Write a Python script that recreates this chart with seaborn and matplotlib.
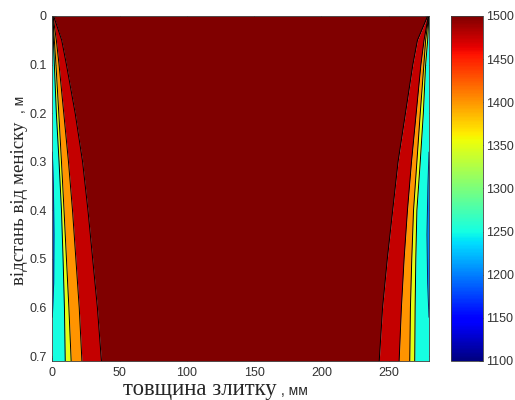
import matplotlib
matplotlib.use("Agg")
import numpy as np
import seaborn as sns
import matplotlib.pyplot as plt
from matplotlib.colors import Normalize
from matplotlib.cm import ScalarMappable

sns.set_style("ticks")
plt.rcParams["font.family"] = ["Liberation Sans", "DejaVu Sans"]

# depth below meniscus, m
depth_m = [0.0, 0.05, 0.1, 0.2, 0.3, 0.4, 0.5, 0.6, 0.71]

# isotherm positions across the slab, mm (left face)
left_1350 = [0.1, 0.8, 1.5, 3.0, 5.0, 6.8, 8.0, 9.0, 9.6]
left_1400 = [0.3, 1.5, 2.7, 4.8, 6.8, 8.7, 10.5, 12.3, 14.0]
left_1475 = [0.5, 3.0, 5.0, 8.5, 12.0, 15.0, 17.5, 20.0, 22.0]
left_1500 = [1.0, 7.0, 10.5, 17.0, 22.5, 26.5, 30.0, 33.5, 36.5]

# isotherm positions, mm (right face)
right_1350 = [279.9, 279.0, 277.5, 275.8, 273.5, 271.0, 270.2, 269.7, 269.4]
right_1400 = [279.7, 277.5, 276.2, 273.5, 271.0, 268.5, 267.2, 266.2, 265.7]
right_1475 = [279.5, 276.3, 274.0, 270.5, 267.0, 264.0, 261.5, 259.5, 257.8]
right_1500 = [279.0, 271.4, 268.0, 262.5, 257.0, 253.0, 249.0, 245.5, 243.0]

# small cold spots (1250 isotherm) at the faces
blue_depth = [0.28, 0.35, 0.45, 0.55, 0.62]
blue_left = [0.0, 0.8, 1.2, 1.0, 0.0]
blue_right = [280.0, 279.2, 278.5, 279.0, 280.0]

slab_edges = [0.0, 280.0]
temp_range = [1100, 1500]
band_levels = [1200, 1250, 1350, 1400, 1475, 1500]

cmap = plt.get_cmap("jet")
norm = Normalize(temp_range[0], temp_range[1])
col = {lv: cmap(norm(lv)) for lv in band_levels}

fig = plt.figure(figsize=(5.15, 4.0), dpi=100)
ax = fig.add_axes([0.1016, 0.0975, 0.7314, 0.8625])
cax = fig.add_axes([0.8757, 0.0975, 0.0621, 0.8625])

# filled bands, colour of each band = lower level (MATLAB contourf style)
ax.fill_betweenx(depth_m, slab_edges[0], left_1350, color=col[1250], lw=0)
ax.fill_betweenx(depth_m, left_1350, left_1400, color=col[1350], lw=0)
ax.fill_betweenx(depth_m, left_1400, left_1475, color=col[1400], lw=0)
ax.fill_betweenx(depth_m, left_1475, left_1500, color=col[1475], lw=0)
ax.fill_betweenx(depth_m, left_1500, right_1500, color=col[1500], lw=0)
ax.fill_betweenx(depth_m, right_1500, right_1475, color=col[1475], lw=0)
ax.fill_betweenx(depth_m, right_1475, right_1400, color=col[1400], lw=0)
ax.fill_betweenx(depth_m, right_1400, right_1350, color=col[1350], lw=0)
ax.fill_betweenx(depth_m, right_1350, slab_edges[1], color=col[1250], lw=0)
ax.fill_betweenx(blue_depth, slab_edges[0], blue_left, color=col[1200], lw=0)
ax.fill_betweenx(blue_depth, blue_right, slab_edges[1], color=col[1200], lw=0)

# isotherm lines
for xs in [left_1350, left_1400, left_1475, left_1500,
           right_1350, right_1400, right_1475, right_1500]:
    sns.lineplot(x=xs, y=depth_m, sort=False, estimator=None, ax=ax,
                 color="black", lw=0.7, legend=False)
for xs in [blue_left, blue_right]:
    sns.lineplot(x=xs, y=blue_depth, sort=False, estimator=None, ax=ax,
                 color="#10206a", lw=0.7, legend=False)

ax.set_xlim(slab_edges[0], slab_edges[1])
ax.set_ylim(0.71, 0)
ax.set_xticks([0, 50, 100, 150, 200, 250])
ax.set_yticks([0, 0.1, 0.2, 0.3, 0.4, 0.5, 0.6, 0.7])
ax.set_yticklabels(["0", "0.1", "0.2", "0.3", "0.4", "0.5", "0.6", "0.7"])
ax.tick_params(direction="in", length=3, width=0.6, labelsize=9, pad=4,
               top=True, right=True, colors="#333333")
ax.set_xlabel("")
ax.set_ylabel("")
for s in ax.spines.values():
    s.set_linewidth(0.6)
    s.set_color("#404040")

# colorbar
cb = fig.colorbar(ScalarMappable(norm=norm, cmap=cmap), cax=cax,
                  ticks=list(range(1100, 1501, 50)))
cb.outline.set_linewidth(0.6)
cb.outline.set_edgecolor("#404040")
cax.tick_params(direction="in", length=3, width=0.6, labelsize=9,
                pad=2, colors="#333333")

# axis labels: serif words + small sans units
fig.text(0.239, 0.012, "товщина злитку", family="Liberation Serif",
         size=16.4, ha="left", va="baseline")
fig.text(0.545, 0.012, ", мм", size=10, ha="left", va="baseline")
fig.text(0.0466, 0.2875, "відстань від меніску", family="Liberation Serif",
         size=13.6, rotation=90, rotation_mode="anchor", ha="left",
         va="baseline")
fig.text(0.0466, 0.718, ", м", size=10, rotation=90, rotation_mode="anchor",
         ha="left", va="baseline")

fig.savefig("out.png", dpi=100)
